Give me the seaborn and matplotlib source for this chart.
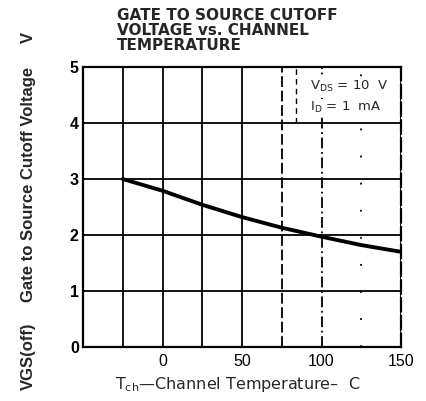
import matplotlib
matplotlib.use("Agg")
import matplotlib.pyplot as plt
import seaborn as sns
import pandas as pd

# Data
temperature = [-25, 0, 25, 50, 75, 100, 125, 150]
vgs_off = [3.00, 2.79, 2.54, 2.32, 2.13, 1.97, 1.82, 1.70]
x_ticks = [-50, -25, 0, 25, 50, 75, 100, 125, 150]
x_tick_labels = ["", "", "0", "", "50", "", "100", "", "150"]
y_ticks = [0, 1, 2, 3, 4, 5]
y_tick_labels = ["0", "1", "2", "3", "4", "5"]

sns.set_theme(style="white")
plt.rcParams['font.family'] = ['Liberation Sans', 'DejaVu Sans']

df = pd.DataFrame({"T": temperature, "V": vgs_off})

fig = plt.figure(figsize=(4.26, 4.01), dpi=100)
ax = fig.add_axes([83/426, 1 - 347/401, (401-83)/426, (347-67)/401])

sns.lineplot(data=df, x="T", y="V", ax=ax, color="black", linewidth=2.8)

ax.set_xlim(-50, 150)
ax.set_ylim(0, 5)
ax.set_xticks(x_ticks)
ax.set_xticklabels(x_tick_labels, fontsize=11.5)
ax.set_yticks(y_ticks)
ax.set_yticklabels(y_tick_labels, fontsize=11.5, fontweight="bold")
ax.tick_params(axis="x", length=0, pad=5, colors="black")
ax.tick_params(axis="y", length=0, pad=3, colors="black")
ax.set_xlabel("")
ax.set_ylabel("")

ax.grid(True, color="black", linewidth=1.3)
styles = ["-", "-", "-", "-", "-", (0, (6, 2)), (0, (6, 2, 1, 2)), (0, (1, 14)), "-"]
for gl, st in zip(ax.xaxis.get_gridlines(), styles):
    gl.set_linestyle(st)
for gl in ax.yaxis.get_gridlines():
    gl.set_linestyle("-")

for s in ax.spines.values():
    s.set_color("black")
    s.set_linewidth(1.6)
ax.spines["right"].set_linestyle((0, (6, 2)))

# conditions box
box = dict(facecolor="white", edgecolor="none", pad=1.0)
ax.text(0.715, 0.93, "V$_{\\mathregular{DS}}$ = 10  V", transform=ax.transAxes,
        fontsize=9.5, ha="left", va="center", family="DejaVu Sans", bbox=box, zorder=5)
ax.text(0.715, 0.855, "I$_{\\mathregular{D}}$ = 1  mA", transform=ax.transAxes,
        fontsize=9.5, ha="left", va="center", family="DejaVu Sans", bbox=box, zorder=5)
ax.plot([0.67, 0.67], [0.8, 1.0], transform=ax.transAxes, color="black",
        linestyle=(0, (4, 3)), linewidth=1.0)

# Title
fig.text(117/426, 1 - 8/401, "GATE TO SOURCE CUTOFF\nVOLTAGE vs. CHANNEL\nTEMPERATURE",
         fontsize=11, fontweight="bold", ha="left", va="top", linespacing=1.0,
         family="DejaVu Sans")

# Y label pieces
fig.text(28/426, 1 - 356/401, "VGS(off)", rotation=90, fontsize=12, fontweight="bold",
         ha="center", va="center")
fig.text(28/426, 1 - 184/401, "Gate to Source Cutoff Voltage", rotation=90, fontsize=12,
         fontweight="bold", ha="center", va="center")
fig.text(28/426, 1 - 37/401, "V", rotation=90, fontsize=12, fontweight="bold",
         ha="center", va="center")

# X label
fig.text(238/426, 1 - 384/401, "T$_{\\mathregular{ch}}$\u2014Channel Temperature\u2013  C",
         fontsize=11.5, ha="center", va="center", family="DejaVu Sans")

fig.savefig("out.png", dpi=100)
